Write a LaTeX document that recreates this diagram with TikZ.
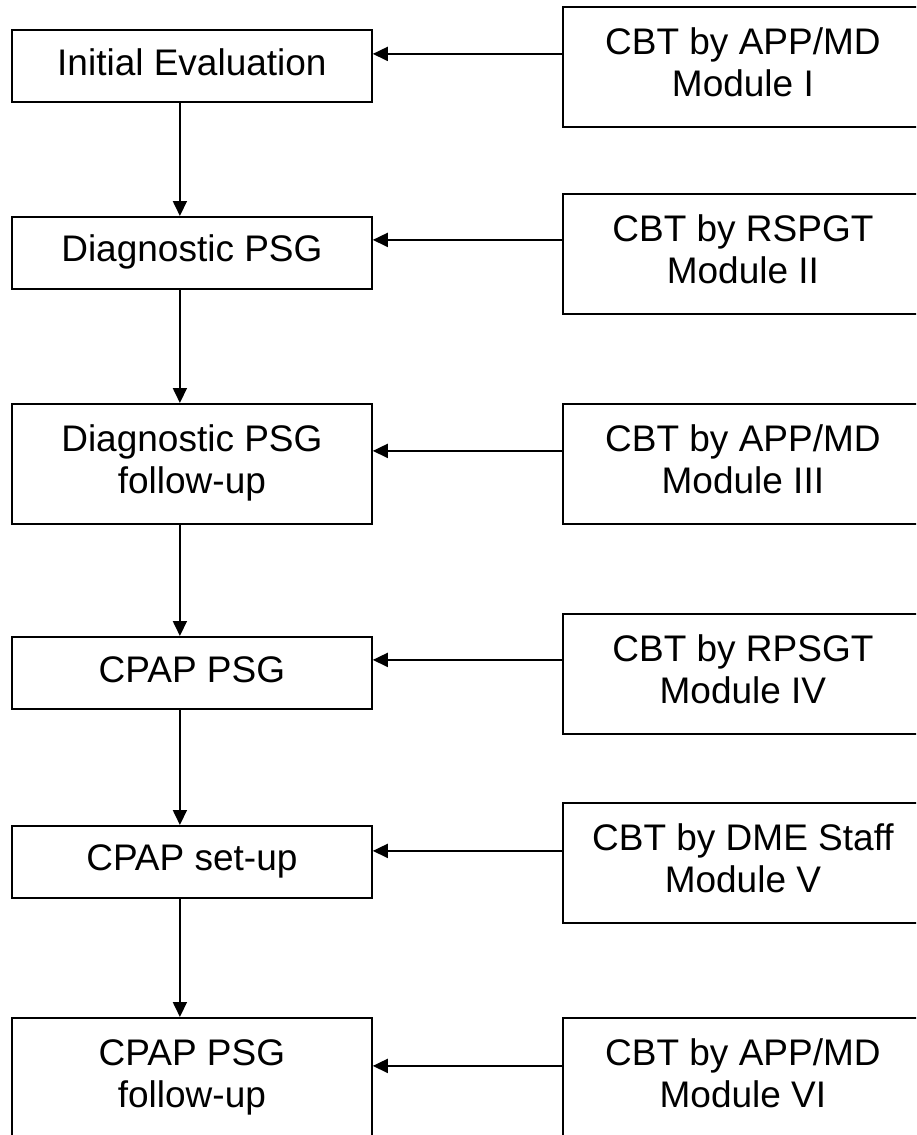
\documentclass[tikz,border=0pt]{standalone}
\usepackage{fontspec}
\setmainfont{Liberation Sans}
\usetikzlibrary{arrows.meta}
\tikzset{
  box/.style={draw=black, line width=1.8pt, rectangle, inner sep=0pt, anchor=north west,
    minimum width=360pt},
  txt/.style={inner sep=0pt, anchor=north, align=center, font=\fontsize{37}{42}\selectfont},
  arr/.style={line width=1.8pt, -{Triangle[length=15pt,width=14pt]}},
}
\begin{document}
\begin{tikzpicture}[x=1pt,y=-1pt]
\useasboundingbox (0,0) rectangle (916,1135);
\clip (0,0) rectangle (916,1135);
% left boxes
\node[box, minimum height=72pt]  (L1) at (11,29) {};
\node[box, minimum height=72pt]  (L2) at (11,216) {};
\node[box, minimum height=120pt] (L3) at (11,403) {};
\node[box, minimum height=72pt]  (L4) at (11,636) {};
\node[box, minimum height=72pt]  (L5) at (11,825) {};
\node[box, minimum height=120pt] (L6) at (11,1017) {};
% right boxes
\node[box, minimum height=120pt] (R1) at (562,6) {};
\node[box, minimum height=120pt] (R2) at (562,193) {};
\node[box, minimum height=120pt] (R3) at (562,403) {};
\node[box, minimum height=120pt] (R4) at (562,613) {};
\node[box, minimum height=120pt] (R5) at (562,802) {};
\node[box, minimum height=120pt] (R6) at (562,1017) {};
% texts
\node[txt] (tL1) at ([yshift=-19pt]L1.north) {Initial Evaluation};
\node[txt] (tL2) at ([yshift=-18pt]L2.north) {Diagnostic PSG};
\node[txt] (tL3) at ([yshift=-21pt]L3.north) {Diagnostic PSG\\follow-up};
\node[txt] (tL4) at ([yshift=-20pt]L4.north) {CPAP PSG};
\node[txt] (tL5) at ([yshift=-19pt]L5.north) {CPAP set-up};
\node[txt] (tL6) at ([yshift=-22pt]L6.north) {CPAP PSG\\follow-up};
\node[txt] (tR1) at ([yshift=-21pt]R1.north) {CBT by APP/MD\\Module I};
\node[txt] (tR2) at ([yshift=-21pt]R2.north) {CBT by RSPGT\\Module II};
\node[txt] (tR3) at ([yshift=-21pt]R3.north) {CBT by APP/MD\\Module III};
\node[txt] (tR4) at ([yshift=-21pt]R4.north) {CBT by RPSGT\\Module IV};
\node[txt] (tR5) at ([yshift=-21pt]R5.north) {CBT by DME Staff\\Module V};
\node[txt] (tR6) at ([yshift=-21pt]R6.north) {CBT by APP/MD\\Module VI};
% horizontal arrows
\coordinate (a1) at ([yshift=13pt]R1.west);
\coordinate (a2) at ([yshift=14pt]R2.west);
\coordinate (a3) at ([yshift=13pt]R3.west);
\coordinate (a4) at ([yshift=14pt]R4.west);
\coordinate (a5) at ([yshift=12pt]R5.west);
\coordinate (a6) at ([yshift=12pt]R6.west);
\draw[arr] (a1) -- (L1.east |- a1);
\draw[arr] (a2) -- (L2.east |- a2);
\draw[arr] (a3) -- (L3.east |- a3);
\draw[arr] (a4) -- (L4.east |- a4);
\draw[arr] (a5) -- (L5.east |- a5);
\draw[arr] (a6) -- (L6.east |- a6);
% vertical arrows
\draw[arr] ([xshift=-12pt]L1.south) -- ([xshift=-12pt]L2.north);
\draw[arr] ([xshift=-12pt]L2.south) -- ([xshift=-12pt]L3.north);
\draw[arr] ([xshift=-12pt]L3.south) -- ([xshift=-12pt]L4.north);
\draw[arr] ([xshift=-12pt]L4.south) -- ([xshift=-12pt]L5.north);
\draw[arr] ([xshift=-12pt]L5.south) -- ([xshift=-12pt]L6.north);
\end{tikzpicture}
\end{document}
